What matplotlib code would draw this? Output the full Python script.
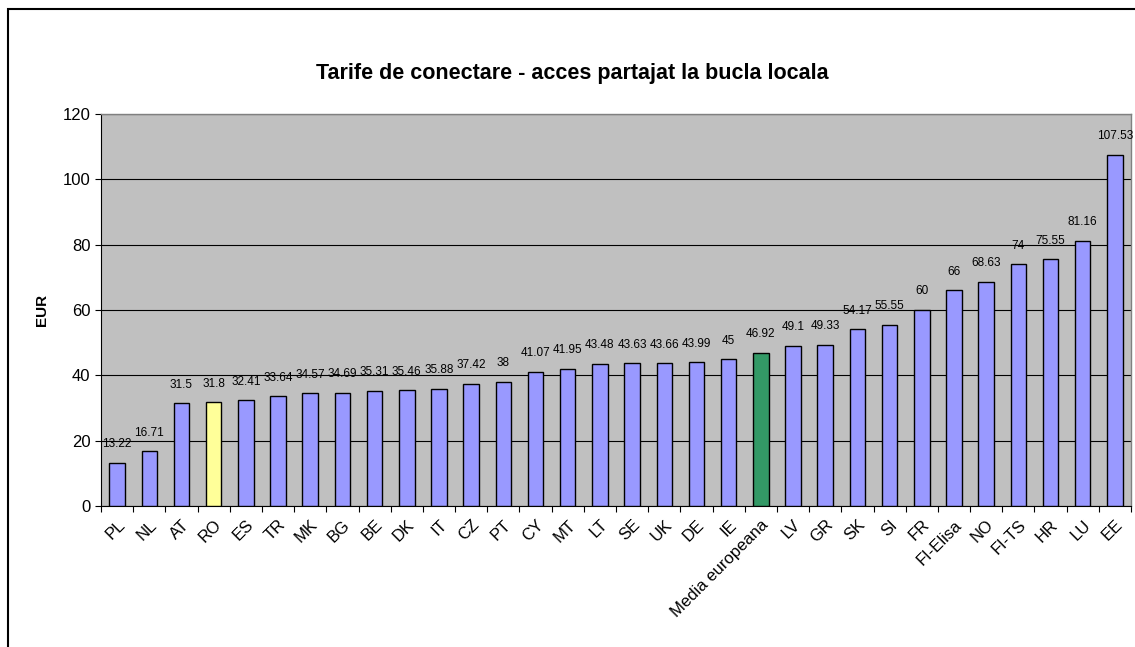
import matplotlib
matplotlib.use("Agg")
import matplotlib.pyplot as plt
from matplotlib.patches import Rectangle

plt.rcParams['font.family'] = ['Liberation Sans', 'DejaVu Sans']

countries = ['PL', 'NL', 'AT', 'RO', 'ES', 'TR', 'MK', 'BG', 'BE', 'DK', 'IT',
             'CZ', 'PT', 'CY', 'MT', 'LT', 'SE', 'UK', 'DE', 'IE',
             'Media europeana', 'LV', 'GR', 'SK', 'SI', 'FR', 'FI-Elisa',
             'NO', 'FI-TS', 'HR', 'LU', 'EE']
values = [13.22, 16.71, 31.5, 31.8, 32.41, 33.64, 34.57, 34.69, 35.31, 35.46,
          35.88, 37.42, 38, 41.07, 41.95, 43.48, 43.63, 43.66, 43.99, 45,
          46.92, 49.1, 49.33, 54.17, 55.55, 60, 66, 68.63, 74, 75.55, 81.16,
          107.53]
labels = ['13.22', '16.71', '31.5', '31.8', '32.41', '33.64', '34.57', '34.69',
          '35.31', '35.46', '35.88', '37.42', '38', '41.07', '41.95', '43.48',
          '43.63', '43.66', '43.99', '45', '46.92', '49.1', '49.33', '54.17',
          '55.55', '60', '66', '68.63', '74', '75.55', '81.16', '107.53']

colors = []
for c in countries:
    if c == 'RO':
        colors.append('#FFFF99')
    elif c == 'Media europeana':
        colors.append('#339966')
    else:
        colors.append('#9999FF')

fig = plt.figure(figsize=(11.35, 6.47), dpi=100)
ax = fig.add_axes([101 / 1135, 1 - 506 / 647, 1030 / 1135, 392 / 647])
ax.set_facecolor('#C0C0C0')

x = list(range(len(countries)))
ax.bar(x, values, width=0.48, color=colors, edgecolor='black', linewidth=1.0, zorder=3)

for xi, v, lab in zip(x, values, labels):
    ax.annotate(lab, (xi, v), xytext=(0, 9), textcoords='offset points',
                ha='center', va='bottom', fontsize=8.5, zorder=4)

ax.set_xlim(-0.5, len(countries) - 0.5)
ax.set_ylim(0, 120)
ax.set_yticks(range(0, 121, 20))
ax.yaxis.grid(True, color='black', linewidth=0.8, zorder=1)
ax.set_axisbelow(True)

# category ticks between bars, labels centred under bars
ax.set_xticks([i - 0.5 for i in range(len(countries) + 1)])
ax.set_xticklabels([])
ax.set_xticks(x, minor=True)
ax.set_xticklabels(countries, minor=True, rotation=45, ha='right',
                   rotation_mode='anchor', fontsize=12)
ax.tick_params(axis='x', which='minor', length=0, pad=8)
ax.tick_params(axis='x', which='major', length=4, direction='out')
ax.tick_params(axis='y', length=4, direction='out', labelsize=12)

for side in ['top', 'right']:
    ax.spines[side].set_color('#808080')
    ax.spines[side].set_linewidth(1.0)
for side in ['left', 'bottom']:
    ax.spines[side].set_color('black')

ax.set_ylabel('EUR', fontsize=11, fontweight='bold', labelpad=10)
fig.text(572 / 1135, 1 - 73 / 647, 'Tarife de conectare - acces partajat la bucla locala',
         ha='center', va='center', fontsize=15.5, fontweight='bold')

fig.patches.append(Rectangle((8 / 1135, -0.1), 1.2, 1.1 - 9 / 647,
                             transform=fig.transFigure, fill=False,
                             edgecolor='black', linewidth=1.5))

fig.savefig('out.png', dpi=100)
